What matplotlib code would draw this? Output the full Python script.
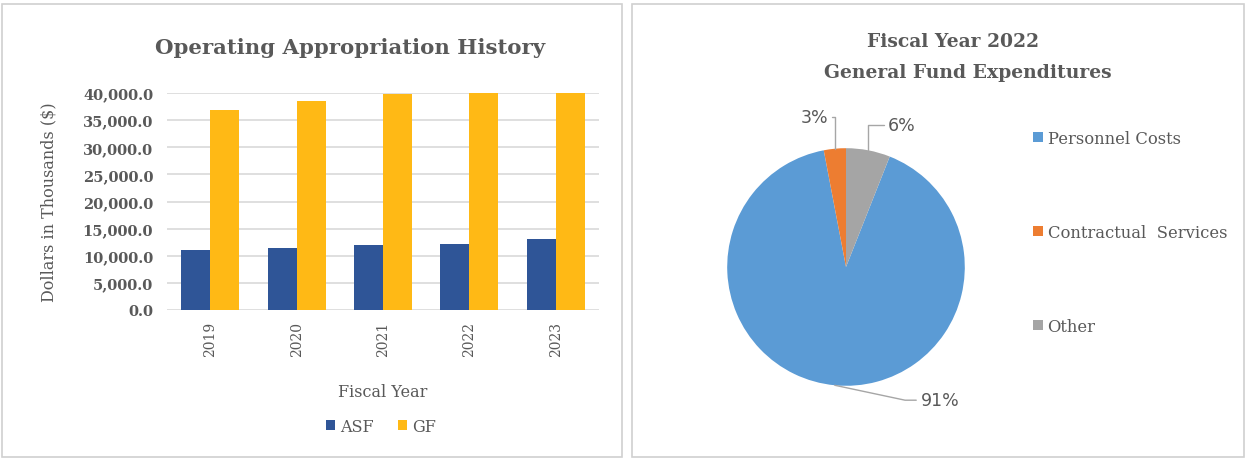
import matplotlib
matplotlib.use("Agg")
import matplotlib.pyplot as plt
from matplotlib.patches import Rectangle
import numpy as np

years = ["2019", "2020", "2021", "2022", "2023"]
asf = [11100, 11500, 11900, 12200, 13000]
gf = [36800, 38600, 39800, 40200, 40200]

pie_labels = ["Personnel Costs", "Contractual  Services", "Other"]
pie_values = [91, 3, 6]

GRAY = "#595959"
SERIF = "DejaVu Serif"

fig = plt.figure(figsize=(12.46, 4.6), dpi=100)

# panel frames
for x0, x1 in [(2, 622), (632, 1244)]:
    fig.patches.append(Rectangle((x0 / 1246, 2 / 460), (x1 - x0) / 1246, 453 / 460,
                                 transform=fig.transFigure, fill=False,
                                 edgecolor="#D0D0D0", linewidth=1.2))

# ---- bar chart ----
ax = fig.add_axes([167 / 1246, 1 - 311 / 460, 432 / 1246, 217 / 460])
x = np.arange(len(years))
w = 0.335
ax.bar(x - w / 2, asf, w, color="#2F5597", label="ASF", zorder=3)
ax.bar(x + w / 2, gf, w, color="#FFB915", label="GF", zorder=3)
ax.set_xlim(-0.5, len(years) - 0.5)
ax.set_ylim(0, 40000)
ax.set_yticks(np.arange(0, 40001, 5000))
ax.set_yticklabels([f"{v:,.1f}" for v in np.arange(0, 40001, 5000)],
                   fontfamily=SERIF, fontweight="bold", fontsize=10.5, color=GRAY)
ax.set_xticks(x)
ax.set_xticklabels(years, rotation=90, fontfamily=SERIF, fontsize=10, color=GRAY)
ax.tick_params(axis="y", length=0, pad=10)
ax.tick_params(axis="x", length=0, pad=8)
ax.grid(axis="y", color="#D9D9D9", linewidth=1.2, zorder=0)
for s in ax.spines.values():
    s.set_visible(False)
ax.set_ylabel("Dollars in Thousands ($)", fontfamily=SERIF, fontsize=11.5,
              color=GRAY, labelpad=18)
ax.set_xlabel("Fiscal Year", fontfamily=SERIF, fontsize=11.5, color=GRAY, labelpad=19)
fig.text(350 / 1246, 1 - 48 / 460, "Operating Appropriation History", ha="center",
         va="center", fontfamily=SERIF, fontweight="bold", fontsize=15.3, color=GRAY)
ax.legend(loc="upper center", bbox_to_anchor=(0.495, -0.43), ncol=2, frameon=False,
          prop={"family": SERIF, "size": 11.5}, handlelength=0.6, handleheight=0.6,
          handletextpad=0.3, columnspacing=1.5, labelcolor=GRAY)

# ---- pie chart ----
pax = fig.add_axes([(846 - 120) / 1246, 1 - (268 + 120) / 460, 240 / 1246, 240 / 460])
colors = ["#5B9BD5", "#ED7D31", "#A5A5A5"]
start = 90 - 360 * pie_values[2] / sum(pie_values)
wedges, _ = pax.pie(pie_values, colors=colors, startangle=start, counterclock=False,
                    radius=0.99, labels=None)
pax.set_xlim(-1, 1)
pax.set_ylim(-1, 1)
pax.set_aspect("auto")
pax.axis("off")

# leader labels
text_pos = [(0.62, -1.11, "left", "angle,angleA=0,angleB=-12"),
            (-0.15, 1.25, "right", "angle,angleA=0,angleB=90"),
            (0.35, 1.18, "left", "angle,angleA=0,angleB=90")]
for wdg, val, (tx, ty, ha, cs) in zip(wedges, pie_values, text_pos):
    mid = np.deg2rad((wdg.theta1 + wdg.theta2) / 2)
    px, py = 0.99 * np.cos(mid), 0.99 * np.sin(mid)
    pax.annotate(f"{val}%", xy=(px, py), xytext=(tx, ty), ha=ha, va="center",
                 fontsize=12.5, color=GRAY, fontfamily="DejaVu Sans",
                 annotation_clip=False,
                 arrowprops=dict(arrowstyle="-", color="#A6A6A6", lw=1,
                                 connectionstyle=cs, shrinkA=1, shrinkB=0))

fig.text(953 / 1246, 1 - 42 / 460, "Fiscal Year 2022", ha="center", va="center",
         fontfamily=SERIF, fontweight="bold", fontsize=13.5, color=GRAY)
fig.text(968 / 1246, 1 - 73 / 460, "General Fund Expenditures", ha="center", va="center",
         fontfamily=SERIF, fontweight="bold", fontsize=13.5, color=GRAY)

fig.legend(wedges, pie_labels, loc="upper left", bbox_to_anchor=(1018 / 1246, 1 - 116 / 460),
           frameon=False, prop={"family": SERIF, "size": 11.8}, handlelength=0.6,
           handleheight=0.6, handletextpad=0.3, labelspacing=4.7, labelcolor=GRAY)

fig.savefig("out.png", dpi=100)
